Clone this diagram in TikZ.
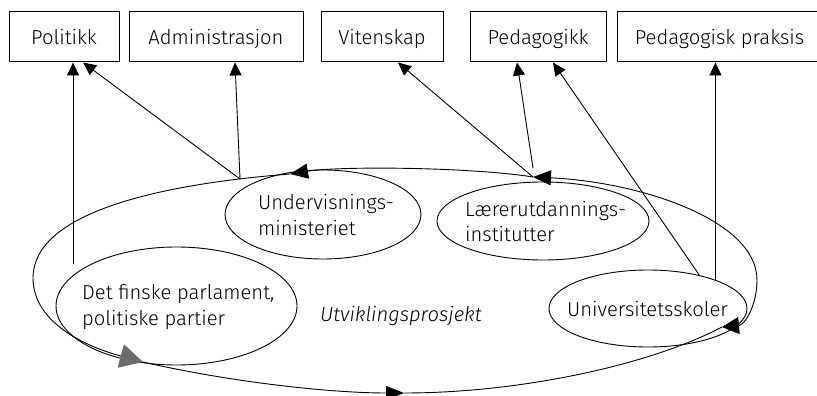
\documentclass[tikz,border=0pt]{standalone}
\usepackage{fontspec}
\setmainfont{Fira Sans}[UprightFont={* Light}, ItalicFont={* Light Italic}]
\usetikzlibrary{arrows.meta,shapes.geometric}

\begin{document}
\begin{tikzpicture}[x=1pt,y=-1pt,
  every node/.style={font=\fontsize{20.2}{25.7}\selectfont, inner sep=0pt},
  field/.style={draw, line width=1pt, minimum height=50.3pt, text height=14.8pt, text depth=0pt},
  bubble/.style={draw, ellipse, line width=0.9pt},
  lbl/.style={anchor=base west, align=left},
  link/.style={line width=0.9pt, -{Triangle[length=13pt,width=12pt]}},
  cyc/.style={line width=0.9pt},
]
\useasboundingbox (0,0) rectangle (817,396);

% top row of fields
\node[field, minimum width=110pt] (pol) at (64,36.85)    {Politikk};
\node[field, minimum width=174pt] (adm) at (216,36.85)   {Administrasjon};
\node[field, minimum width=122pt] (vit) at (382,36.85)   {Vitenskap};
\node[field, minimum width=136pt] (ped) at (538,36.85)   {Pedagogikk};
\node[field, minimum width=205pt] (prx) at (719.5,36.85) {Pedagogisk praksis};

% actors
\node[bubble, minimum width=196pt, minimum height=89pt]  (udm) at (323,214.5) {};
\node[bubble, minimum width=212pt, minimum height=78pt]  (lui) at (543,221)   {};
\node[bubble, minimum width=241pt, minimum height=118pt] (dfp) at (176.5,306) {};
\node[bubble, minimum width=198pt, minimum height=77pt]  (usk) at (648,308.5) {};

% two-line labels are anchored at the baseline of their last line
\node[lbl] (udm-t) at (258,235)   {Undervisnings-\\ministeriet};
\node[lbl] (lui-t) at (465,241.7) {Lærerutdannings-\\institutter};
\node[lbl] (dfp-t) at (82,325)    {Det finske parlament,\\politiske partier};
\node[anchor=base] (usk-t) at (647.5,316) {Universitetsskoler};
\node[anchor=base west] (proj) at (320,321.7) {\itshape Utviklingsprosjekt};

% points on the development cycle
\coordinate (t1) at (533,177);
\coordinate (t2) at (290,174);
\coordinate (t3) at (143,362);
\coordinate (bt) at (404,393);
\coordinate (ut) at (722,327);
\coordinate (rr) at (757,280);
\coordinate (ll) at (33,278);
\coordinate (tl) at (240,179);
\coordinate (pst) at (533,168);
\coordinate (pv) at (73,264);

% the development cycle
\draw[cyc, {Triangle[length=17pt,width=17pt]}-{Triangle[length=18pt,width=15pt]}]
  (ut) .. controls (745,325) and (757,305) .. (rr)
       .. controls (757,220) and (640,182) .. (t1);
\draw[cyc, -{Triangle[length=18pt,width=15pt]}]
  (t1) .. controls (470,167) and (340,166) .. (t2);
\draw[cyc, -{Triangle[length=23pt,width=24pt,color=black!58]}]
  (t2) .. controls (150,185) and (33,215) .. (ll)
       .. controls (33,320) and (80,345) .. (t3);
\draw[cyc, -{Triangle[length=18pt,width=14pt]}]
  (t3) .. controls (230,382) and (330,393) .. (bt);
\draw[cyc] (bt) .. controls (520,393) and (650,365) .. (ut);

% links to the fields
\draw[link] (pv) -- (pv |- pol.south);
\draw[link] (tl) -- ([xshift=19pt]pol.south);
\draw[link] (tl) -- ([xshift=19pt]adm.south);
\draw[link] (t1) -- ([xshift=16pt]vit.south);
\draw[link] (pst) -- ([xshift=-21pt]ped.south);
\draw[link] (usk.33) -- ([xshift=15pt]ped.south);
\draw[link] (usk.23) -- (usk.23 |- prx.south);
\end{tikzpicture}
\end{document}
